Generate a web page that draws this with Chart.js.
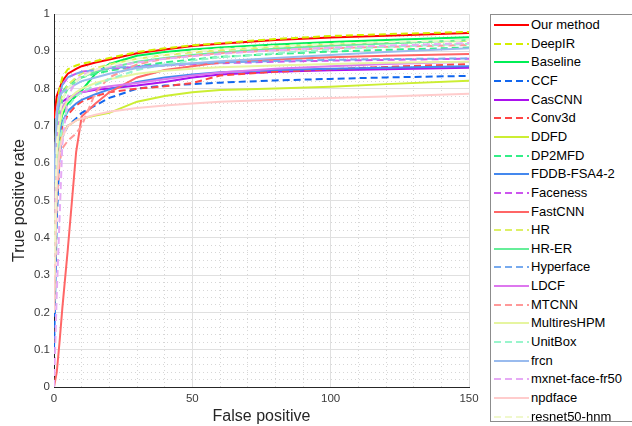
<!DOCTYPE html>
<html>
<head>
<meta charset="utf-8">
<script src="https://cdn.jsdelivr.net/npm/chart.js@4/dist/chart.umd.min.js"></script>
<style>
  html,body{margin:0;padding:0;background:#fff;overflow:hidden;}
  #wrap{position:relative;width:632px;height:426px;}
  #legend{position:absolute;left:490px;top:14px;width:160px;height:408px;border:1px solid #8c8c8c;background:#fff;box-sizing:border-box;
    font-family:"Liberation Sans",Arial,Helvetica,sans-serif;font-size:13px;color:#000;}
  .item{position:absolute;left:0;height:18px;line-height:18px;white-space:nowrap;}
  .item svg{position:absolute;left:2px;top:0;}
  .item span{position:absolute;left:40px;top:0;}
</style>
</head>
<body>
<div id="wrap">
  <canvas id="c" width="632" height="426"></canvas>
  <div id="legend"></div>
</div>
<script>
// False positive counts (x grid shared by all curves)
const falsePositives = [0, 1, 2, 3, 5, 8, 10, 15, 20, 30, 40, 50, 60, 80, 100, 120, 150];

// True positive rate of each method at those false positive counts
const ourMethod     = [0.72, 0.78, 0.80, 0.82, 0.84, 0.853, 0.86, 0.87, 0.878, 0.895, 0.905, 0.914, 0.92, 0.93, 0.937, 0.942, 0.949];
const deepIR        = [0.55, 0.74, 0.80, 0.83, 0.852, 0.862, 0.867, 0.874, 0.882, 0.898, 0.908, 0.916, 0.922, 0.933, 0.941, 0.946, 0.952];
const baseline      = [0.45, 0.64, 0.70, 0.73, 0.76, 0.78, 0.795, 0.84, 0.866, 0.888, 0.898, 0.905, 0.91, 0.918, 0.925, 0.93, 0.938];
const ccf           = [0.10, 0.45, 0.62, 0.67, 0.70, 0.72, 0.735, 0.755, 0.775, 0.80, 0.808, 0.812, 0.816, 0.822, 0.826, 0.83, 0.834];
const casCNN        = [0.55, 0.72, 0.75, 0.765, 0.775, 0.785, 0.79, 0.797, 0.80, 0.808, 0.818, 0.83, 0.838, 0.845, 0.849, 0.852, 0.856];
const conv3d        = [0.30, 0.60, 0.66, 0.70, 0.73, 0.755, 0.765, 0.78, 0.79, 0.80, 0.806, 0.815, 0.835, 0.845, 0.852, 0.858, 0.866];
const ddfd          = [0.20, 0.55, 0.64, 0.68, 0.70, 0.715, 0.72, 0.728, 0.735, 0.765, 0.78, 0.79, 0.796, 0.80, 0.805, 0.812, 0.821];
const dp2mfd        = [0.50, 0.72, 0.77, 0.79, 0.81, 0.825, 0.83, 0.84, 0.848, 0.86, 0.87, 0.878, 0.885, 0.893, 0.899, 0.904, 0.91];
const fddbFSA       = [0.35, 0.62, 0.68, 0.71, 0.74, 0.76, 0.77, 0.785, 0.798, 0.818, 0.83, 0.838, 0.844, 0.85, 0.853, 0.856, 0.86];
const faceness      = [0.40, 0.70, 0.78, 0.81, 0.83, 0.84, 0.845, 0.85, 0.853, 0.858, 0.862, 0.865, 0.868, 0.872, 0.875, 0.877, 0.88];
const fastCNN       = [0.00, 0.04, 0.12, 0.21, 0.37, 0.63, 0.725, 0.76, 0.79, 0.83, 0.85, 0.86, 0.87, 0.878, 0.884, 0.888, 0.893];
const hr            = [0.35, 0.68, 0.75, 0.78, 0.81, 0.83, 0.84, 0.855, 0.865, 0.88, 0.89, 0.897, 0.903, 0.912, 0.918, 0.922, 0.928];
const hrER          = [0.40, 0.68, 0.74, 0.77, 0.80, 0.82, 0.83, 0.845, 0.855, 0.872, 0.882, 0.89, 0.897, 0.907, 0.915, 0.921, 0.93];
const hyperface     = [0.30, 0.70, 0.78, 0.81, 0.83, 0.84, 0.845, 0.85, 0.855, 0.86, 0.864, 0.867, 0.87, 0.874, 0.877, 0.879, 0.881];
const ldcf          = [0.40, 0.66, 0.72, 0.75, 0.77, 0.785, 0.79, 0.80, 0.806, 0.815, 0.825, 0.835, 0.843, 0.853, 0.86, 0.866, 0.872];
const mtcnn         = [0.20, 0.50, 0.60, 0.64, 0.66, 0.68, 0.70, 0.79, 0.83, 0.865, 0.88, 0.888, 0.895, 0.903, 0.908, 0.912, 0.917];
const multiresHPM   = [0.30, 0.62, 0.70, 0.74, 0.77, 0.79, 0.80, 0.815, 0.825, 0.84, 0.848, 0.853, 0.857, 0.862, 0.866, 0.869, 0.872];
const unitBox       = [0.20, 0.55, 0.65, 0.70, 0.75, 0.78, 0.79, 0.81, 0.825, 0.85, 0.865, 0.875, 0.884, 0.895, 0.905, 0.912, 0.92];
const frcn          = [0.55, 0.74, 0.78, 0.79, 0.80, 0.812, 0.82, 0.83, 0.84, 0.855, 0.862, 0.868, 0.873, 0.882, 0.89, 0.898, 0.908];
const mxnetFace     = [0.00, 0.25, 0.45, 0.65, 0.78, 0.82, 0.835, 0.85, 0.858, 0.87, 0.88, 0.887, 0.893, 0.903, 0.91, 0.915, 0.922];
const npdface       = [0.20, 0.55, 0.63, 0.67, 0.70, 0.715, 0.72, 0.73, 0.738, 0.748, 0.755, 0.76, 0.765, 0.77, 0.775, 0.779, 0.786];
const resnet50hnm   = [0.30, 0.65, 0.73, 0.77, 0.80, 0.82, 0.83, 0.85, 0.862, 0.88, 0.892, 0.90, 0.906, 0.914, 0.92, 0.925, 0.93];

const seriesNames = ["Our method","DeepIR","Baseline","CCF","CasCNN","Conv3d","DDFD","DP2MFD","FDDB-FSA4-2","Faceness",
  "FastCNN","HR","HR-ER","Hyperface","LDCF","MTCNN","MultiresHPM","UnitBox","frcn","mxnet-face-fr50","npdface","resnet50-hnm"];
const seriesValues = [ourMethod, deepIR, baseline, ccf, casCNN, conv3d, ddfd, dp2mfd, fddbFSA, faceness,
  fastCNN, hr, hrER, hyperface, ldcf, mtcnn, multiresHPM, unitBox, frcn, mxnetFace, npdface, resnet50hnm];

// styles (kept apart from the data)
const seriesColors = ["#ff0000","#d4ee00","#00ee55","#1166ee","#aa11ee","#ff4444","#ccee33","#33ee88","#4488ee","#cc55ee",
  "#ff6666","#ddf066","#66ee99","#77aaee","#dd77ee","#ff9999","#e6f5a0","#99f5cc","#99bbee","#e6aaf5","#ffcccc","#f0f8cc"];
const seriesDashed = [false,true,false,true,false,true,false,true,false,true,
  false,true,false,true,false,true,false,true,false,true,false,true];
const DASH = [7,4];

const FONT = '"Liberation Sans", Arial, Helvetica, sans-serif';
Chart.defaults.font.family = FONT;

const datasets = seriesNames.map((name, i) => ({
  label: name,
  data: falsePositives.map((fp, j) => ({x: fp, y: seriesValues[i][j]})),
  borderColor: seriesColors[i],
  backgroundColor: seriesColors[i],
  borderWidth: 2,
  borderDash: seriesDashed[i] ? DASH : [],
  pointRadius: 0,
  tension: 0,
  fill: false,
  order: seriesNames.length - i
}));

const isMajorX = v => Math.abs(v % 50) < 1e-9;
const isMajorY = v => Math.abs(v * 10 - Math.round(v * 10)) < 1e-6;

new Chart(document.getElementById('c'), {
  type: 'line',
  data: { datasets },
  options: {
    responsive: false,
    animation: false,
    layout: { padding: { left: 0, top: 14, right: 163, bottom: 0 } },
    plugins: { legend: { display: false }, tooltip: { enabled: false } },
    scales: {
      x: {
        type: 'linear', min: 0, max: 150,
        ticks: { stepSize: 10, autoSkip: false, maxRotation: 0, color: '#3a3a3a',
          font: { size: 11.5 }, padding: 5,
          callback: v => isMajorX(v) ? String(v) : '' },
        grid: { drawTicks: false, lineWidth: 1,
          color: c => (c.tick && isMajorX(c.tick.value)) ? '#e0e0e0' : '#d6d6d6' },
        border: { display: true, color: '#262626', width: 1,
          dash: c => (c.tick && isMajorX(c.tick.value)) ? [] : [1, 3] },
        title: { display: true, text: 'False positive', color: '#262626',
          font: { size: 16 }, padding: { top: 0, bottom: 0 } },
        afterFit: s => { s.height = 39; }
      },
      y: {
        type: 'linear', min: 0, max: 1,
        ticks: { stepSize: 0.02, autoSkip: false, color: '#3a3a3a',
          font: { size: 11.5 }, padding: 4,
          callback: v => isMajorY(v) ? String(Math.round(v * 10) / 10) : '' },
        grid: { drawTicks: false, lineWidth: 1,
          color: c => (c.tick && isMajorY(c.tick.value)) ? '#e0e0e0' : '#d6d6d6' },
        border: { display: true, color: '#262626', width: 1,
          dash: c => (c.tick && isMajorY(c.tick.value)) ? [] : [1, 3] },
        title: { display: true, text: 'True positive rate', color: '#262626',
          font: { size: 16 }, padding: { top: 10, bottom: 0 } },
        afterFit: s => { s.width = 54; }
      }
    }
  }
});

// Legend (HTML, built from the same arrays)
const legend = document.getElementById('legend');
seriesNames.forEach((name, i) => {
  const item = document.createElement('div');
  item.className = 'item';
  item.style.top = (25 - 14 - 1 - 9 + i * 18.65) + 'px';
  const dash = seriesDashed[i] ? ' stroke-dasharray="' + DASH.join(' ') + '"' : '';
  item.innerHTML = '<svg width="36" height="18"><line x1="1" y1="9" x2="36" y2="9" stroke="' + seriesColors[i] +
    '" stroke-width="2"' + dash + '/></svg><span></span>';
  item.querySelector('span').textContent = name;
  legend.appendChild(item);
});
</script>
</body>
</html>
